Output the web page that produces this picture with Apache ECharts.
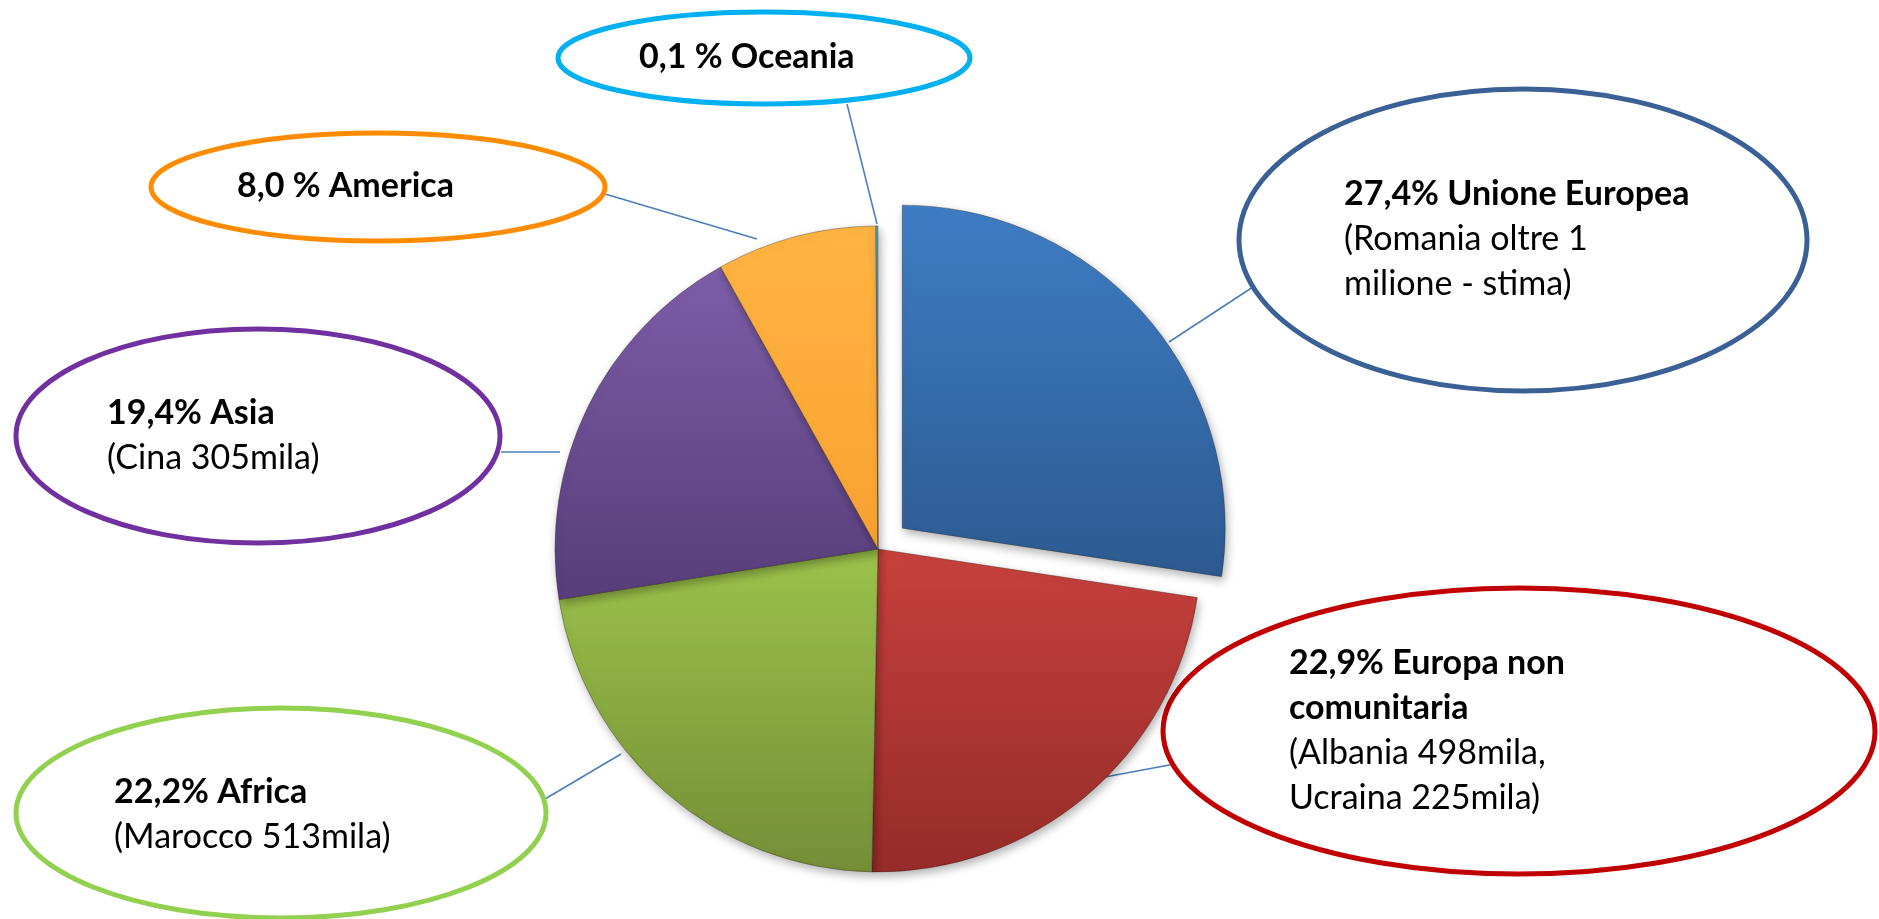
<!DOCTYPE html>
<html>
<head>
<meta charset="utf-8">
<title>Stranieri residenti per area di provenienza</title>
<script src="https://cdn.jsdelivr.net/npm/echarts@6/dist/echarts.min.js"></script>
<style>
  html, body { margin: 0; padding: 0; background: #ffffff; }
  #chart { width: 1879px; height: 919px; }
</style>
</head>
<body>
<div id="chart"></div>
<script>
// Areas of origin, clockwise from 12 o'clock, and their share (%)
const regions = ['Unione Europea', 'Europa non comunitaria', 'Africa', 'Asia', 'America', 'Oceania'];
const shares = [27.4, 22.9, 22.2, 19.4, 8.0, 0.1];
// How each headline writes the percent sign, and its line breaks
const percentSigns = ['%', '%', '%', '%', ' %', ' %'];
const headlineLines = [['Unione Europea'], ['Europa non', 'comunitaria'], ['Africa'], ['Asia'], ['America'], ['Oceania']];
// Detail lines under each headline
const notes = [
  ['(Romania oltre 1', 'milione - stima)'],
  ['(Albania 498mila,', 'Ucraina 225mila)'],
  ['(Marocco 513mila)'],
  ['(Cina 305mila)'],
  [],
  []
];
// Area that is pulled out of the pie
const highlighted = 'Unione Europea';

// ---- styling and layout ----
const FONT = 'Lato, "Open Sans", sans-serif';
const FONT_SIZE = 34;
const LINE_H = 45;
const BASELINE_OFFSET = 36;
const PIE_CENTER = [878, 549];
const PIE_RADIUS = 323;

const sliceGradients = [
  ['#3F7DC5', '#2C5A90'],
  ['#C7413D', '#952B29'],
  ['#9CC24B', '#748E36'],
  ['#7D5DA8', '#573D7A'],
  ['#FFB442', '#F8A230'],
  ['#4BACC6', '#31849B']
];

const callouts = [
  { cx: 1523, cy: 240, rx: 284, ry: 151, stroke: '#3A6096', textX: 1344, baseline: 208, line: [[1169, 342], [1253, 287]] },
  { cx: 1519, cy: 731, rx: 356, ry: 143, stroke: '#C00000', textX: 1289, baseline: 677, line: [[1105, 777], [1180, 763]] },
  { cx: 281, cy: 813, rx: 265, ry: 105, stroke: '#92D050', textX: 114, baseline: 806, line: [[621, 754], [545, 799]] },
  { cx: 258, cy: 436, rx: 242, ry: 107, stroke: '#7030A0', textX: 107, baseline: 427, line: [[560, 452], [501, 452]] },
  { cx: 378, cy: 187, rx: 227, ry: 54, stroke: '#FF8C00', textX: 237, baseline: 200, line: [[757, 239], [605, 194]] },
  { cx: 764, cy: 58, rx: 206, ry: 46, stroke: '#00B0F0', textX: 639, baseline: 71, line: [[877, 224], [847, 104]] }
];

function formatShare(v, i) {
  return v.toFixed(1).replace('.', ',') + percentSigns[i];
}

const sliceData = regions.map(function (name, i) {
  return {
    name: name,
    value: shares[i],
    selected: name === highlighted,
    itemStyle: {
      color: new echarts.graphic.LinearGradient(0, 0, 0, 1, [
        { offset: 0, color: sliceGradients[i][0] },
        { offset: 1, color: sliceGradients[i][1] }
      ])
    }
  };
});

// Same values again, carrying the callout text (no fill of its own)
const labelData = regions.map(function (name, i) {
  return { name: name, value: shares[i] };
});

const graphics = [];
callouts.forEach(function (c) {
  graphics.push({
    type: 'line',
    z: 0,
    shape: { x1: c.line[0][0], y1: c.line[0][1], x2: c.line[1][0], y2: c.line[1][1] },
    style: { stroke: '#4A7EBB', lineWidth: 1.5 }
  });
  graphics.push({
    type: 'ellipse',
    z: 1,
    shape: { cx: c.cx, cy: c.cy, rx: c.rx, ry: c.ry },
    style: { fill: '#ffffff', stroke: c.stroke, lineWidth: 5 }
  });
});

const chart = echarts.init(document.getElementById('chart'), null, { renderer: 'canvas' });

chart.setOption({
  backgroundColor: '#ffffff',
  animation: false,
  graphic: graphics,
  series: [
    {
      type: 'pie',
      name: 'slices',
      z: 3,
      center: PIE_CENTER,
      radius: PIE_RADIUS,
      startAngle: 90,
      clockwise: true,
      selectedMode: 'single',
      selectedOffset: 32,
      emphasis: { disabled: true },
      itemStyle: {
        borderColor: 'rgba(40, 30, 20, 0.35)',
        borderWidth: 1,
        shadowBlur: 10,
        shadowOffsetX: 2,
        shadowOffsetY: 4,
        shadowColor: 'rgba(0, 0, 0, 0.3)'
      },
      label: { show: false },
      labelLine: { show: false },
      data: sliceData
    },
    {
      type: 'pie',
      name: 'callouts',
      z: 4,
      silent: true,
      center: PIE_CENTER,
      radius: PIE_RADIUS,
      startAngle: 90,
      clockwise: true,
      avoidLabelOverlap: false,
      emphasis: { disabled: true },
      itemStyle: { color: 'rgba(0,0,0,0)', borderWidth: 0 },
      label: {
        show: true,
        position: 'inside',
        color: '#000000',
        formatter: function (p) {
          const i = p.dataIndex;
          const head = headlineLines[i].slice();
          head[0] = formatShare(shares[i], i) + ' ' + head[0];
          const parts = head.map(function (t) { return '{h|' + t + '}'; })
            .concat(notes[i].map(function (t) { return '{n|' + t + '}'; }));
          return parts.join('\n');
        },
        rich: {
          h: { fontFamily: FONT, fontWeight: 'bold', fontSize: FONT_SIZE, lineHeight: LINE_H, color: '#000000' },
          n: { fontFamily: FONT, fontWeight: 'normal', fontSize: FONT_SIZE, lineHeight: LINE_H, color: '#000000' }
        }
      },
      labelLine: { show: false },
      labelLayout: function (p) {
        const c = callouts[p.dataIndex];
        return { x: c.textX, y: c.baseline - BASELINE_OFFSET, align: 'left', verticalAlign: 'top' };
      },
      data: labelData
    }
  ]
});
</script>
</body>
</html>
